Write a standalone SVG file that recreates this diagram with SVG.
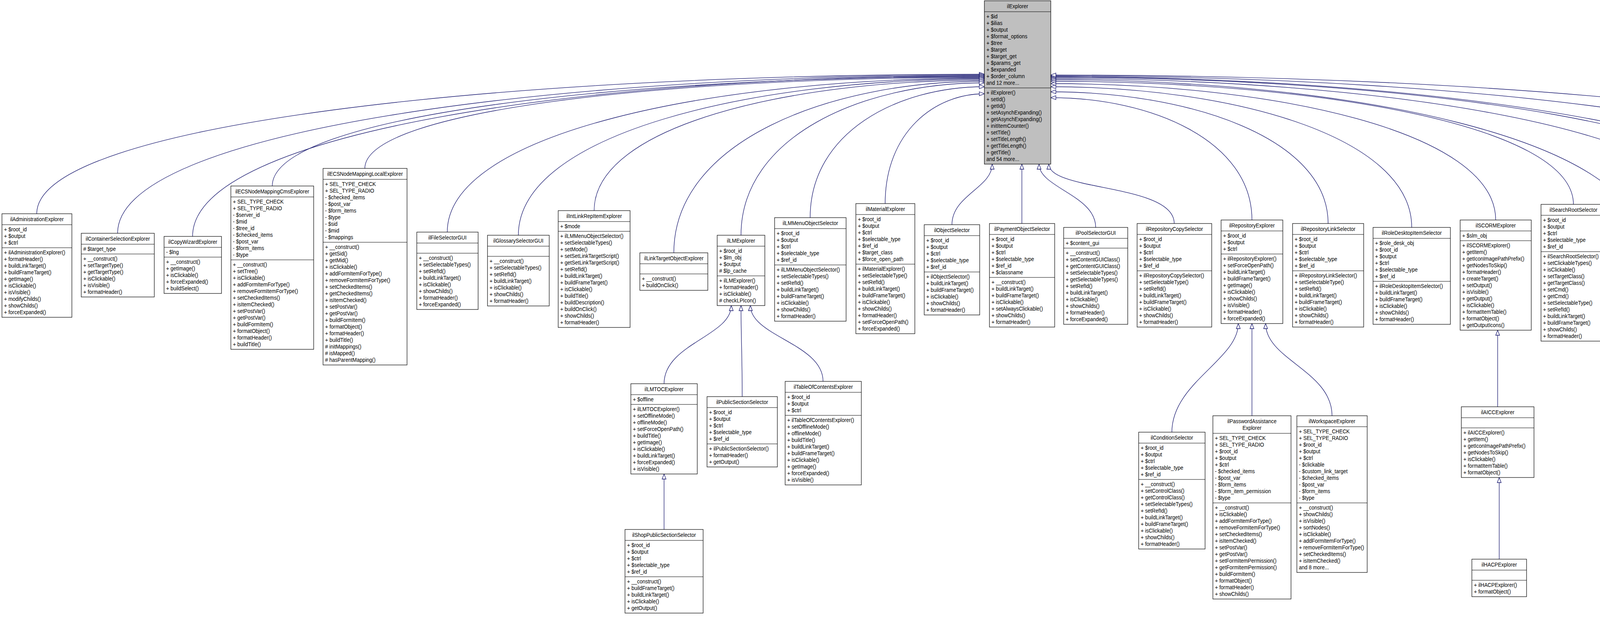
<svg xmlns="http://www.w3.org/2000/svg" width="5215" height="1579" viewBox="0 0 5215 1579">
<style>
.b{fill:#fff;stroke:#000;stroke-width:1.2}
.r{fill:#bfbfbf;stroke:#000;stroke-width:1.2}
.l{stroke:#000;stroke-width:1.2}
text{font-family:"Liberation Sans",Arial,sans-serif;font-size:15px;fill:#000}
.t{text-anchor:middle}
.e{fill:none;stroke:#191970;stroke-width:1.3;marker-end:url(#a)}
</style>
<defs>
<marker id="a" viewBox="0 0 14 12" refX="14" refY="6" markerWidth="14" markerHeight="12" orient="auto" markerUnits="userSpaceOnUse"><path d="M1,1 L14,6 L1,11 Z" fill="#fff" stroke="#191970" stroke-width="1.3"/></marker>
</defs>
<rect width="5215" height="1579" fill="#fff"/>
<g id="edges">
<path class="e" d="M94,547 C94,315 1307,190 2520,190"/>
<path class="e" d="M301,597 C301,334 1410,192 2520,192"/>
<path class="e" d="M493,605 C493,338 1506,194 2520,194"/>
<path class="e" d="M697,476 C697,294 1608,196 2520,196"/>
<path class="e" d="M934,431 C934,280 1727,198 2520,198"/>
<path class="e" d="M1145,594 C1145,338 1832,200 2520,200"/>
<path class="e" d="M1327,602 C1327,342 1923,202 2520,202"/>
<path class="e" d="M1521,539 C1521,322 2021,205 2520,205"/>
<path class="e" d="M1725,647 C1725,362 2122,208 2520,208"/>
<path class="e" d="M1897,602 C1897,349 2208,212 2520,212"/>
<path class="e" d="M2074,557 C2074,339 2297,222 2520,222"/>
<path class="e" d="M2266,521 C2266,338 2393,240 2520,240"/>
<path class="e" d="M2437,575 C2437,500 2540,480 2540,420"/>
<path class="e" d="M2616,572 L2616,420"/>
<path class="e" d="M2805,582 C2805,500 2660,480 2660,420"/>
<path class="e" d="M3006,572 C3006,470 2685,490 2685,420"/>
<path class="e" d="M3205,563 C3205,360 2948,250 2690,250"/>
<path class="e" d="M3400,572 C3400,353 3045,235 2690,235"/>
<path class="e" d="M3614,582 C3614,348 3152,222 2690,222"/>
<path class="e" d="M3829,563 C3829,336 3259,214 2690,214"/>
<path class="e" d="M4028,523 C4028,318 3359,208 2690,208"/>
<path class="e" d="M4205,631 C4205,353 3447,204 2690,204"/>
<path class="e" d="M4384,572 C4384,331 3537,201 2690,201"/>
<path class="e" d="M4568,572 C4568,328 3629,198 2690,198"/>
<path class="e" d="M4749,644 C4749,353 3719,196 2690,196"/>
<path class="e" d="M4930,579 C4930,329 3810,194 2690,194"/>
<path class="e" d="M5120,515 C5120,305 3905,192 2690,192"/>
<path class="e" d="M1700,982 C1700,880 1872,860 1872,782"/>
<path class="e" d="M1900,1015 C1900,900 1897,870 1897,782"/>
<path class="e" d="M2107,976 C2107,880 1921,860 1921,782"/>
<path class="e" d="M1700,1355 L1700,1213"/>
<path class="e" d="M3000,1106 C3000,980 3170,920 3170,828"/>
<path class="e" d="M3205,1064 L3205,828"/>
<path class="e" d="M3410,1064 C3410,950 3240,920 3240,828"/>
<path class="e" d="M3834,1041 L3834,845"/>
<path class="e" d="M3838,1431 L3838,1222"/>
</g>

<g id="ilExplorer" transform="translate(2520,2)">
<rect class="r" width="170" height="418"/><line class="l" x1="0" y1="28" x2="170" y2="28"/><line class="l" x1="0" y1="223" x2="170" y2="223"/>
<g transform="scale(.87,1)"><text class="t" x="97.7" y="19">ilExplorer</text>
<text y="45"><tspan x="6">+ $id</tspan><tspan x="6" dy="17">+ $ilias</tspan><tspan x="6" dy="17">+ $output</tspan><tspan x="6" dy="17">+ $format_options</tspan><tspan x="6" dy="17">+ $tree</tspan><tspan x="6" dy="17">+ $target</tspan><tspan x="6" dy="17">+ $target_get</tspan><tspan x="6" dy="17">+ $params_get</tspan><tspan x="6" dy="17">+ $expanded</tspan><tspan x="6" dy="17">+ $order_column</tspan><tspan x="6" dy="17">and 12 more...</tspan></text>
<text y="240"><tspan x="6">+ ilExplorer()</tspan><tspan x="6" dy="17">+ setId()</tspan><tspan x="6" dy="17">+ getId()</tspan><tspan x="6" dy="17">+ setAsynchExpanding()</tspan><tspan x="6" dy="17">+ getAsynchExpanding()</tspan><tspan x="6" dy="17">+ initItemCounter()</tspan><tspan x="6" dy="17">+ setTitle()</tspan><tspan x="6" dy="17">+ setTitleLength()</tspan><tspan x="6" dy="17">+ getTitleLength()</tspan><tspan x="6" dy="17">+ getTitle()</tspan><tspan x="6" dy="17">and 54 more...</tspan></text></g>
</g>

<g id="ilAdministrationExplorer" transform="translate(5,547)">
<rect class="b" width="179" height="265"/><line class="l" x1="0" y1="28" x2="179" y2="28"/><line class="l" x1="0" y1="87" x2="179" y2="87"/>
<g transform="scale(.87,1)"><text class="t" x="102.9" y="19">ilAdministrationExplorer</text>
<text y="45"><tspan x="6">+ $root_id</tspan><tspan x="6" dy="17">+ $output</tspan><tspan x="6" dy="17">+ $ctrl</tspan></text>
<text y="104"><tspan x="6">+ ilAdministrationExplorer()</tspan><tspan x="6" dy="17">+ formatHeader()</tspan><tspan x="6" dy="17">+ buildLinkTarget()</tspan><tspan x="6" dy="17">+ buildFrameTarget()</tspan><tspan x="6" dy="17">+ getImage()</tspan><tspan x="6" dy="17">+ isClickable()</tspan><tspan x="6" dy="17">+ isVisible()</tspan><tspan x="6" dy="17">+ modifyChilds()</tspan><tspan x="6" dy="17">+ showChilds()</tspan><tspan x="6" dy="17">+ forceExpanded()</tspan></text></g>
</g>

<g id="ilContainerSelectionExplorer" transform="translate(208,597)">
<rect class="b" width="187" height="163"/><line class="l" x1="0" y1="28" x2="187" y2="28"/><line class="l" x1="0" y1="53" x2="187" y2="53"/>
<g transform="scale(.87,1)"><text class="t" x="107.5" y="19">ilContainerSelectionExplorer</text>
<text y="45"><tspan x="6"># $target_type</tspan></text>
<text y="70"><tspan x="6">+ __construct()</tspan><tspan x="6" dy="17">+ setTargetType()</tspan><tspan x="6" dy="17">+ getTargetType()</tspan><tspan x="6" dy="17">+ isClickable()</tspan><tspan x="6" dy="17">+ isVisible()</tspan><tspan x="6" dy="17">+ formatHeader()</tspan></text></g>
</g>

<g id="ilCopyWizardExplorer" transform="translate(420,605)">
<rect class="b" width="147" height="146"/><line class="l" x1="0" y1="28" x2="147" y2="28"/><line class="l" x1="0" y1="53" x2="147" y2="53"/>
<g transform="scale(.87,1)"><text class="t" x="84.5" y="19">ilCopyWizardExplorer</text>
<text y="45"><tspan x="6">- $lng</tspan></text>
<text y="70"><tspan x="6">+ __construct()</tspan><tspan x="6" dy="17">+ getImage()</tspan><tspan x="6" dy="17">+ isClickable()</tspan><tspan x="6" dy="17">+ forceExpanded()</tspan><tspan x="6" dy="17">+ buildSelect()</tspan></text></g>
</g>

<g id="ilECSNodeMappingCmsExplorer" transform="translate(591,476)">
<rect class="b" width="212" height="418"/><line class="l" x1="0" y1="28" x2="212" y2="28"/><line class="l" x1="0" y1="189" x2="212" y2="189"/>
<g transform="scale(.87,1)"><text class="t" x="121.8" y="19">ilECSNodeMappingCmsExplorer</text>
<text y="45"><tspan x="6">+ SEL_TYPE_CHECK</tspan><tspan x="6" dy="17">+ SEL_TYPE_RADIO</tspan><tspan x="6" dy="17">- $server_id</tspan><tspan x="6" dy="17">- $mid</tspan><tspan x="6" dy="17">- $tree_id</tspan><tspan x="6" dy="17">- $checked_items</tspan><tspan x="6" dy="17">- $post_var</tspan><tspan x="6" dy="17">- $form_items</tspan><tspan x="6" dy="17">- $type</tspan></text>
<text y="206"><tspan x="6">+ __construct()</tspan><tspan x="6" dy="17">+ setTree()</tspan><tspan x="6" dy="17">+ isClickable()</tspan><tspan x="6" dy="17">+ addFormItemForType()</tspan><tspan x="6" dy="17">+ removeFormItemForType()</tspan><tspan x="6" dy="17">+ setCheckedItems()</tspan><tspan x="6" dy="17">+ isItemChecked()</tspan><tspan x="6" dy="17">+ setPostVar()</tspan><tspan x="6" dy="17">+ getPostVar()</tspan><tspan x="6" dy="17">+ buildFormItem()</tspan><tspan x="6" dy="17">+ formatObject()</tspan><tspan x="6" dy="17">+ formatHeader()</tspan><tspan x="6" dy="17">+ buildTitle()</tspan></text></g>
</g>

<g id="ilECSNodeMappingLocalExplorer" transform="translate(827,431)">
<rect class="b" width="215" height="503"/><line class="l" x1="0" y1="28" x2="215" y2="28"/><line class="l" x1="0" y1="189" x2="215" y2="189"/>
<g transform="scale(.87,1)"><text class="t" x="123.6" y="19">ilECSNodeMappingLocalExplorer</text>
<text y="45"><tspan x="6">+ SEL_TYPE_CHECK</tspan><tspan x="6" dy="17">+ SEL_TYPE_RADIO</tspan><tspan x="6" dy="17">- $checked_items</tspan><tspan x="6" dy="17">- $post_var</tspan><tspan x="6" dy="17">- $form_items</tspan><tspan x="6" dy="17">- $type</tspan><tspan x="6" dy="17">- $sid</tspan><tspan x="6" dy="17">- $mid</tspan><tspan x="6" dy="17">- $mappings</tspan></text>
<text y="206"><tspan x="6">+ __construct()</tspan><tspan x="6" dy="17">+ getSid()</tspan><tspan x="6" dy="17">+ getMid()</tspan><tspan x="6" dy="17">+ isClickable()</tspan><tspan x="6" dy="17">+ addFormItemForType()</tspan><tspan x="6" dy="17">+ removeFormItemForType()</tspan><tspan x="6" dy="17">+ setCheckedItems()</tspan><tspan x="6" dy="17">+ getCheckedItems()</tspan><tspan x="6" dy="17">+ isItemChecked()</tspan><tspan x="6" dy="17">+ setPostVar()</tspan><tspan x="6" dy="17">+ getPostVar()</tspan><tspan x="6" dy="17">+ buildFormItem()</tspan><tspan x="6" dy="17">+ formatObject()</tspan><tspan x="6" dy="17">+ formatHeader()</tspan><tspan x="6" dy="17">+ buildTitle()</tspan><tspan x="6" dy="17"># initMappings()</tspan><tspan x="6" dy="17"># isMapped()</tspan><tspan x="6" dy="17"># hasParentMapping()</tspan></text></g>
</g>

<g id="ilFileSelectorGUI" transform="translate(1067,594)">
<rect class="b" width="157" height="198"/><line class="l" x1="0" y1="28" x2="157" y2="28"/><line class="l" x1="0" y1="54" x2="157" y2="54"/>
<g transform="scale(.87,1)"><text class="t" x="90.2" y="19">ilFileSelectorGUI</text>
<text y="71"><tspan x="6">+ __construct()</tspan><tspan x="6" dy="17">+ setSelectableTypes()</tspan><tspan x="6" dy="17">+ setRefId()</tspan><tspan x="6" dy="17">+ buildLinkTarget()</tspan><tspan x="6" dy="17">+ isClickable()</tspan><tspan x="6" dy="17">+ showChilds()</tspan><tspan x="6" dy="17">+ formatHeader()</tspan><tspan x="6" dy="17">+ forceExpanded()</tspan></text></g>
</g>

<g id="ilGlossarySelectorGUI" transform="translate(1248,602)">
<rect class="b" width="158" height="181"/><line class="l" x1="0" y1="28" x2="158" y2="28"/><line class="l" x1="0" y1="54" x2="158" y2="54"/>
<g transform="scale(.87,1)"><text class="t" x="90.8" y="19">ilGlossarySelectorGUI</text>
<text y="71"><tspan x="6">+ __construct()</tspan><tspan x="6" dy="17">+ setSelectableTypes()</tspan><tspan x="6" dy="17">+ setRefId()</tspan><tspan x="6" dy="17">+ buildLinkTarget()</tspan><tspan x="6" dy="17">+ isClickable()</tspan><tspan x="6" dy="17">+ showChilds()</tspan><tspan x="6" dy="17">+ formatHeader()</tspan></text></g>
</g>

<g id="ilIntLinkRepItemExplorer" transform="translate(1429,539)">
<rect class="b" width="184" height="299"/><line class="l" x1="0" y1="28" x2="184" y2="28"/><line class="l" x1="0" y1="53" x2="184" y2="53"/>
<g transform="scale(.87,1)"><text class="t" x="105.7" y="19">ilIntLinkRepItemExplorer</text>
<text y="45"><tspan x="6">+ $mode</tspan></text>
<text y="70"><tspan x="6">+ ilLMMenuObjectSelector()</tspan><tspan x="6" dy="17">+ setSelectableTypes()</tspan><tspan x="6" dy="17">+ setMode()</tspan><tspan x="6" dy="17">+ setSetLinkTargetScript()</tspan><tspan x="6" dy="17">+ getSetLinkTargetScript()</tspan><tspan x="6" dy="17">+ setRefId()</tspan><tspan x="6" dy="17">+ buildLinkTarget()</tspan><tspan x="6" dy="17">+ buildFrameTarget()</tspan><tspan x="6" dy="17">+ isClickable()</tspan><tspan x="6" dy="17">+ buildTitle()</tspan><tspan x="6" dy="17">+ buildDescription()</tspan><tspan x="6" dy="17">+ buildOnClick()</tspan><tspan x="6" dy="17">+ showChilds()</tspan><tspan x="6" dy="17">+ formatHeader()</tspan></text></g>
</g>

<g id="ilLinkTargetObjectExplorer" transform="translate(1638,647)">
<rect class="b" width="174" height="96"/><line class="l" x1="0" y1="28" x2="174" y2="28"/><line class="l" x1="0" y1="54" x2="174" y2="54"/>
<g transform="scale(.87,1)"><text class="t" x="100" y="19">ilLinkTargetObjectExplorer</text>
<text y="71"><tspan x="6">+ __construct()</tspan><tspan x="6" dy="17">+ buildOnClick()</tspan></text></g>
</g>

<g id="ilLMExplorer" transform="translate(1836,602)">
<rect class="b" width="122" height="180"/><line class="l" x1="0" y1="28" x2="122" y2="28"/><line class="l" x1="0" y1="104" x2="122" y2="104"/>
<g transform="scale(.87,1)"><text class="t" x="70.1" y="19">ilLMExplorer</text>
<text y="45"><tspan x="6">+ $root_id</tspan><tspan x="6" dy="17">+ $lm_obj</tspan><tspan x="6" dy="17">+ $output</tspan><tspan x="6" dy="17"># $lp_cache</tspan></text>
<text y="121"><tspan x="6">+ ilLMExplorer()</tspan><tspan x="6" dy="17">+ formatHeader()</tspan><tspan x="6" dy="17">+ isClickable()</tspan><tspan x="6" dy="17"># checkLPIcon()</tspan></text></g>
</g>

<g id="ilLMMenuObjectSelector" transform="translate(1983,557)">
<rect class="b" width="183" height="265"/><line class="l" x1="0" y1="28" x2="183" y2="28"/><line class="l" x1="0" y1="121" x2="183" y2="121"/>
<g transform="scale(.87,1)"><text class="t" x="105.2" y="19">ilLMMenuObjectSelector</text>
<text y="45"><tspan x="6">+ $root_id</tspan><tspan x="6" dy="17">+ $output</tspan><tspan x="6" dy="17">+ $ctrl</tspan><tspan x="6" dy="17">+ $selectable_type</tspan><tspan x="6" dy="17">+ $ref_id</tspan></text>
<text y="138"><tspan x="6">+ ilLMMenuObjectSelector()</tspan><tspan x="6" dy="17">+ setSelectableTypes()</tspan><tspan x="6" dy="17">+ setRefId()</tspan><tspan x="6" dy="17">+ buildLinkTarget()</tspan><tspan x="6" dy="17">+ buildFrameTarget()</tspan><tspan x="6" dy="17">+ isClickable()</tspan><tspan x="6" dy="17">+ showChilds()</tspan><tspan x="6" dy="17">+ formatHeader()</tspan></text></g>
</g>

<g id="ilMaterialExplorer" transform="translate(2191,521)">
<rect class="b" width="151" height="333"/><line class="l" x1="0" y1="28" x2="151" y2="28"/><line class="l" x1="0" y1="155" x2="151" y2="155"/>
<g transform="scale(.87,1)"><text class="t" x="86.8" y="19">ilMaterialExplorer</text>
<text y="45"><tspan x="6">+ $root_id</tspan><tspan x="6" dy="17">+ $output</tspan><tspan x="6" dy="17">+ $ctrl</tspan><tspan x="6" dy="17">+ $selectable_type</tspan><tspan x="6" dy="17">+ $ref_id</tspan><tspan x="6" dy="17">+ $target_class</tspan><tspan x="6" dy="17">+ $force_open_path</tspan></text>
<text y="172"><tspan x="6">+ ilMaterialExplorer()</tspan><tspan x="6" dy="17">+ setSelectableType()</tspan><tspan x="6" dy="17">+ setRefId()</tspan><tspan x="6" dy="17">+ buildLinkTarget()</tspan><tspan x="6" dy="17">+ buildFrameTarget()</tspan><tspan x="6" dy="17">+ isClickable()</tspan><tspan x="6" dy="17">+ showChilds()</tspan><tspan x="6" dy="17">+ formatHeader()</tspan><tspan x="6" dy="17">+ setForceOpenPath()</tspan><tspan x="6" dy="17">+ forceExpanded()</tspan></text></g>
</g>

<g id="ilObjectSelector" transform="translate(2366,575)">
<rect class="b" width="142" height="231"/><line class="l" x1="0" y1="28" x2="142" y2="28"/><line class="l" x1="0" y1="121" x2="142" y2="121"/>
<g transform="scale(.87,1)"><text class="t" x="81.6" y="19">ilObjectSelector</text>
<text y="45"><tspan x="6">+ $root_id</tspan><tspan x="6" dy="17">+ $output</tspan><tspan x="6" dy="17">+ $ctrl</tspan><tspan x="6" dy="17">+ $selectable_type</tspan><tspan x="6" dy="17">+ $ref_id</tspan></text>
<text y="138"><tspan x="6">+ ilObjectSelector()</tspan><tspan x="6" dy="17">+ buildLinkTarget()</tspan><tspan x="6" dy="17">+ buildFrameTarget()</tspan><tspan x="6" dy="17">+ isClickable()</tspan><tspan x="6" dy="17">+ showChilds()</tspan><tspan x="6" dy="17">+ formatHeader()</tspan></text></g>
</g>

<g id="ilPaymentObjectSelector" transform="translate(2533,572)">
<rect class="b" width="167" height="265"/><line class="l" x1="0" y1="28" x2="167" y2="28"/><line class="l" x1="0" y1="138" x2="167" y2="138"/>
<g transform="scale(.87,1)"><text class="t" x="96" y="19">ilPaymentObjectSelector</text>
<text y="45"><tspan x="6">+ $root_id</tspan><tspan x="6" dy="17">+ $output</tspan><tspan x="6" dy="17">+ $ctrl</tspan><tspan x="6" dy="17">+ $selectable_type</tspan><tspan x="6" dy="17">+ $ref_id</tspan><tspan x="6" dy="17">+ $classname</tspan></text>
<text y="155"><tspan x="6">+ __construct()</tspan><tspan x="6" dy="17">+ buildLinkTarget()</tspan><tspan x="6" dy="17">+ buildFrameTarget()</tspan><tspan x="6" dy="17">+ isClickable()</tspan><tspan x="6" dy="17">+ setAlwaysClickable()</tspan><tspan x="6" dy="17">+ showChilds()</tspan><tspan x="6" dy="17">+ formatHeader()</tspan></text></g>
</g>

<g id="ilPoolSelectorGUI" transform="translate(2723,582)">
<rect class="b" width="164" height="248"/><line class="l" x1="0" y1="28" x2="164" y2="28"/><line class="l" x1="0" y1="53" x2="164" y2="53"/>
<g transform="scale(.87,1)"><text class="t" x="94.3" y="19">ilPoolSelectorGUI</text>
<text y="45"><tspan x="6">+ $content_gui</tspan></text>
<text y="70"><tspan x="6">+ __construct()</tspan><tspan x="6" dy="17">+ setContentGUIClass()</tspan><tspan x="6" dy="17">+ getContentGUIClass()</tspan><tspan x="6" dy="17">+ setSelectableTypes()</tspan><tspan x="6" dy="17">+ getSelectableTypes()</tspan><tspan x="6" dy="17">+ setRefId()</tspan><tspan x="6" dy="17">+ buildLinkTarget()</tspan><tspan x="6" dy="17">+ isClickable()</tspan><tspan x="6" dy="17">+ showChilds()</tspan><tspan x="6" dy="17">+ formatHeader()</tspan><tspan x="6" dy="17">+ forceExpanded()</tspan></text></g>
</g>

<g id="ilRepositoryCopySelector" transform="translate(2911,572)">
<rect class="b" width="191" height="265"/><line class="l" x1="0" y1="28" x2="191" y2="28"/><line class="l" x1="0" y1="121" x2="191" y2="121"/>
<g transform="scale(.87,1)"><text class="t" x="109.8" y="19">ilRepositoryCopySelector</text>
<text y="45"><tspan x="6">+ $root_id</tspan><tspan x="6" dy="17">+ $output</tspan><tspan x="6" dy="17">+ $ctrl</tspan><tspan x="6" dy="17">+ $selectable_type</tspan><tspan x="6" dy="17">+ $ref_id</tspan></text>
<text y="138"><tspan x="6">+ ilRepositoryCopySelector()</tspan><tspan x="6" dy="17">+ setSelectableType()</tspan><tspan x="6" dy="17">+ setRefId()</tspan><tspan x="6" dy="17">+ buildLinkTarget()</tspan><tspan x="6" dy="17">+ buildFrameTarget()</tspan><tspan x="6" dy="17">+ isClickable()</tspan><tspan x="6" dy="17">+ showChilds()</tspan><tspan x="6" dy="17">+ formatHeader()</tspan></text></g>
</g>

<g id="ilRepositoryExplorer" transform="translate(3126,563)">
<rect class="b" width="158" height="265"/><line class="l" x1="0" y1="28" x2="158" y2="28"/><line class="l" x1="0" y1="87" x2="158" y2="87"/>
<g transform="scale(.87,1)"><text class="t" x="90.8" y="19">ilRepositoryExplorer</text>
<text y="45"><tspan x="6">+ $root_id</tspan><tspan x="6" dy="17">+ $output</tspan><tspan x="6" dy="17">+ $ctrl</tspan></text>
<text y="104"><tspan x="6">+ ilRepositoryExplorer()</tspan><tspan x="6" dy="17">+ setForceOpenPath()</tspan><tspan x="6" dy="17">+ buildLinkTarget()</tspan><tspan x="6" dy="17">+ buildFrameTarget()</tspan><tspan x="6" dy="17">+ getImage()</tspan><tspan x="6" dy="17">+ isClickable()</tspan><tspan x="6" dy="17">+ showChilds()</tspan><tspan x="6" dy="17">+ isVisible()</tspan><tspan x="6" dy="17">+ formatHeader()</tspan><tspan x="6" dy="17">+ forceExpanded()</tspan></text></g>
</g>

<g id="ilRepositoryLinkSelector" transform="translate(3309,572)">
<rect class="b" width="182" height="265"/><line class="l" x1="0" y1="28" x2="182" y2="28"/><line class="l" x1="0" y1="121" x2="182" y2="121"/>
<g transform="scale(.87,1)"><text class="t" x="104.6" y="19">ilRepositoryLinkSelector</text>
<text y="45"><tspan x="6">+ $root_id</tspan><tspan x="6" dy="17">+ $output</tspan><tspan x="6" dy="17">+ $ctrl</tspan><tspan x="6" dy="17">+ $selectable_type</tspan><tspan x="6" dy="17">+ $ref_id</tspan></text>
<text y="138"><tspan x="6">+ ilRepositoryLinkSelector()</tspan><tspan x="6" dy="17">+ setSelectableType()</tspan><tspan x="6" dy="17">+ setRefId()</tspan><tspan x="6" dy="17">+ buildLinkTarget()</tspan><tspan x="6" dy="17">+ buildFrameTarget()</tspan><tspan x="6" dy="17">+ isClickable()</tspan><tspan x="6" dy="17">+ showChilds()</tspan><tspan x="6" dy="17">+ formatHeader()</tspan></text></g>
</g>

<g id="ilRoleDesktopItemSelector" transform="translate(3515,582)">
<rect class="b" width="198" height="248"/><line class="l" x1="0" y1="28" x2="198" y2="28"/><line class="l" x1="0" y1="138" x2="198" y2="138"/>
<g transform="scale(.87,1)"><text class="t" x="113.8" y="19">ilRoleDesktopItemSelector</text>
<text y="45"><tspan x="6">+ $role_desk_obj</tspan><tspan x="6" dy="17">+ $root_id</tspan><tspan x="6" dy="17">+ $output</tspan><tspan x="6" dy="17">+ $ctrl</tspan><tspan x="6" dy="17">+ $selectable_type</tspan><tspan x="6" dy="17">+ $ref_id</tspan></text>
<text y="155"><tspan x="6">+ ilRoleDesktopItemSelector()</tspan><tspan x="6" dy="17">+ buildLinkTarget()</tspan><tspan x="6" dy="17">+ buildFrameTarget()</tspan><tspan x="6" dy="17">+ isClickable()</tspan><tspan x="6" dy="17">+ showChilds()</tspan><tspan x="6" dy="17">+ formatHeader()</tspan></text></g>
</g>

<g id="ilSCORMExplorer" transform="translate(3738,563)">
<rect class="b" width="182" height="282"/><line class="l" x1="0" y1="28" x2="182" y2="28"/><line class="l" x1="0" y1="53" x2="182" y2="53"/>
<g transform="scale(.87,1)"><text class="t" x="104.6" y="19">ilSCORMExplorer</text>
<text y="45"><tspan x="6">+ $slm_obj</tspan></text>
<text y="70"><tspan x="6">+ ilSCORMExplorer()</tspan><tspan x="6" dy="17">+ getItem()</tspan><tspan x="6" dy="17">+ getIconImagePathPrefix()</tspan><tspan x="6" dy="17">+ getNodesToSkip()</tspan><tspan x="6" dy="17">+ formatHeader()</tspan><tspan x="6" dy="17">+ createTarget()</tspan><tspan x="6" dy="17">+ setOutput()</tspan><tspan x="6" dy="17">+ isVisible()</tspan><tspan x="6" dy="17">+ getOutput()</tspan><tspan x="6" dy="17">+ isClickable()</tspan><tspan x="6" dy="17">+ formatItemTable()</tspan><tspan x="6" dy="17">+ formatObject()</tspan><tspan x="6" dy="17">+ getOutputIcons()</tspan></text></g>
</g>

<g id="ilSearchRootSelector" transform="translate(3945,523)">
<rect class="b" width="166" height="350"/><line class="l" x1="0" y1="28" x2="166" y2="28"/><line class="l" x1="0" y1="121" x2="166" y2="121"/>
<g transform="scale(.87,1)"><text class="t" x="95.4" y="19">ilSearchRootSelector</text>
<text y="45"><tspan x="6">+ $root_id</tspan><tspan x="6" dy="17">+ $output</tspan><tspan x="6" dy="17">+ $ctrl</tspan><tspan x="6" dy="17">+ $selectable_type</tspan><tspan x="6" dy="17">+ $ref_id</tspan></text>
<text y="138"><tspan x="6">+ ilSearchRootSelector()</tspan><tspan x="6" dy="17">+ setClickableTypes()</tspan><tspan x="6" dy="17">+ isClickable()</tspan><tspan x="6" dy="17">+ setTargetClass()</tspan><tspan x="6" dy="17">+ getTargetClass()</tspan><tspan x="6" dy="17">+ setCmd()</tspan><tspan x="6" dy="17">+ getCmd()</tspan><tspan x="6" dy="17">+ setSelectableType()</tspan><tspan x="6" dy="17">+ setRefId()</tspan><tspan x="6" dy="17">+ buildLinkTarget()</tspan><tspan x="6" dy="17">+ buildFrameTarget()</tspan><tspan x="6" dy="17">+ showChilds()</tspan><tspan x="6" dy="17">+ formatHeader()</tspan></text></g>
</g>

<g id="ilShopExplorer" transform="translate(4135,631)">
<rect class="b" width="140" height="163"/><line class="l" x1="0" y1="28" x2="140" y2="28"/><line class="l" x1="0" y1="87" x2="140" y2="87"/>
<g transform="scale(.87,1)"><text class="t" x="80.5" y="19">ilShopExplorer</text>
<text y="45"><tspan x="6">+ $root_id</tspan><tspan x="6" dy="17">+ $target</tspan><tspan x="6" dy="17">+ $payment_objects</tspan></text>
<text y="104"><tspan x="6">+ ilShopExplorer()</tspan><tspan x="6" dy="17">+ renderTree()</tspan><tspan x="6" dy="17">+ setOutput()</tspan><tspan x="6" dy="17">+ getOutput()</tspan></text></g>
</g>

<g id="ilShopRepositoryExplorer" transform="translate(4299,572)">
<rect class="b" width="170" height="248"/><line class="l" x1="0" y1="28" x2="170" y2="28"/><line class="l" x1="0" y1="87" x2="170" y2="87"/>
<g transform="scale(.87,1)"><text class="t" x="97.7" y="19">ilShopRepositoryExplorer</text>
<text y="45"><tspan x="6">+ $root_id</tspan><tspan x="6" dy="17">+ $output</tspan><tspan x="6" dy="17">+ $ctrl</tspan></text>
<text y="104"><tspan x="6">+ __construct()</tspan><tspan x="6" dy="17">+ setForceOpenPath()</tspan><tspan x="6" dy="17">+ buildLinkTarget()</tspan><tspan x="6" dy="17">+ getImage()</tspan><tspan x="6" dy="17">+ isClickable()</tspan><tspan x="6" dy="17">+ showChilds()</tspan><tspan x="6" dy="17">+ isVisible()</tspan><tspan x="6" dy="17">+ formatHeader()</tspan><tspan x="6" dy="17">+ forceExpanded()</tspan></text></g>
</g>

<g id="ilSolutionExplorer" transform="translate(4493,572)">
<rect class="b" width="150" height="265"/><line class="l" x1="0" y1="28" x2="150" y2="28"/><line class="l" x1="0" y1="138" x2="150" y2="138"/>
<g transform="scale(.87,1)"><text class="t" x="86.2" y="19">ilSolutionExplorer</text>
<text y="45"><tspan x="6">+ $root_id</tspan><tspan x="6" dy="17">+ $output</tspan><tspan x="6" dy="17">+ $ctrl</tspan><tspan x="6" dy="17">+ $selectable_type</tspan><tspan x="6" dy="17">+ $ref_id</tspan><tspan x="6" dy="17">+ $target_class</tspan></text>
<text y="155"><tspan x="6">+ ilSolutionExplorer()</tspan><tspan x="6" dy="17">+ setSelectableType()</tspan><tspan x="6" dy="17">+ setRefId()</tspan><tspan x="6" dy="17">+ buildLinkTarget()</tspan><tspan x="6" dy="17">+ buildFrameTarget()</tspan><tspan x="6" dy="17">+ isClickable()</tspan><tspan x="6" dy="17">+ showChilds()</tspan></text></g>
</g>

<g id="ilStyleScopeExplorer" transform="translate(4668,644)">
<rect class="b" width="162" height="113"/><line class="l" x1="0" y1="28" x2="162" y2="28"/><line class="l" x1="0" y1="54" x2="162" y2="54"/>
<g transform="scale(.87,1)"><text class="t" x="93.1" y="19">ilStyleScopeExplorer</text>
<text y="71"><tspan x="6">+ ilStyleScopeExplorer()</tspan><tspan x="6" dy="17">+ formatHeader()</tspan><tspan x="6" dy="17">+ buildLinkTarget()</tspan></text></g>
</g>

<g id="ilSurveySkillExplorer" transform="translate(4855,579)">
<rect class="b" width="151" height="248"/><line class="l" x1="0" y1="28" x2="151" y2="28"/><line class="l" x1="0" y1="87" x2="151" y2="87"/>
<g transform="scale(.87,1)"><text class="t" x="86.8" y="19">ilSurveySkillExplorer</text>
<text y="45"><tspan x="6">+ $root_id</tspan><tspan x="6" dy="17">+ $slm_obj</tspan><tspan x="6" dy="17">+ $output</tspan></text>
<text y="104"><tspan x="6">+ __construct()</tspan><tspan x="6" dy="17">+ setForceOpenPath()</tspan><tspan x="6" dy="17">+ isClickable()</tspan><tspan x="6" dy="17">+ buildLinkTarget()</tspan><tspan x="6" dy="17">+ buildTitle()</tspan><tspan x="6" dy="17">+ forceExpanded()</tspan><tspan x="6" dy="17">+ buildFrameTarget()</tspan><tspan x="6" dy="17">+ showChilds()</tspan><tspan x="6" dy="17">+ formatHeader()</tspan></text></g>
</g>

<g id="ilWorkspaceFolderExplorer" transform="translate(5031,515)">
<rect class="b" width="179" height="384"/><line class="l" x1="0" y1="28" x2="179" y2="28"/><line class="l" x1="0" y1="87" x2="179" y2="87"/>
<g transform="scale(.87,1)"><text class="t" x="102.9" y="19">ilWorkspaceFolderExplorer</text>
<text y="45"><tspan x="6">+ $user_id</tspan><tspan x="6" dy="17">+ $root_id</tspan><tspan x="6" dy="17">+ $allowed_types</tspan></text>
<text y="104"><tspan x="6">+ __construct()</tspan><tspan x="6" dy="17">+ setEnableSmallMode()</tspan><tspan x="6" dy="17">+ getEnableSmallMode()</tspan><tspan x="6" dy="17">+ setOutput()</tspan><tspan x="6" dy="17">+ formatHeader()</tspan><tspan x="6" dy="17">+ setExpand()</tspan><tspan x="6" dy="17">+ buildLinkTarget()</tspan><tspan x="6" dy="17">+ buildFrameTarget()</tspan><tspan x="6" dy="17">+ setAllowedTypes()</tspan><tspan x="6" dy="17">+ setShowDetails()</tspan><tspan x="6" dy="17">+ buildDescription()</tspan><tspan x="6" dy="17">+ getImage()</tspan><tspan x="6" dy="17">+ isClickable()</tspan><tspan x="6" dy="17">+ showChilds()</tspan><tspan x="6" dy="17">+ hasFolders()</tspan><tspan x="6" dy="17">+ getParentNode()</tspan><tspan x="6" dy="17">+ getOutput()</tspan></text></g>
</g>

<g id="ilLMTOCExplorer" transform="translate(1615,982)">
<rect class="b" width="170" height="231"/><line class="l" x1="0" y1="28" x2="170" y2="28"/><line class="l" x1="0" y1="53" x2="170" y2="53"/>
<g transform="scale(.87,1)"><text class="t" x="97.7" y="19">ilLMTOCExplorer</text>
<text y="45"><tspan x="6">+ $offline</tspan></text>
<text y="70"><tspan x="6">+ ilLMTOCExplorer()</tspan><tspan x="6" dy="17">+ setOfflineMode()</tspan><tspan x="6" dy="17">+ offlineMode()</tspan><tspan x="6" dy="17">+ setForceOpenPath()</tspan><tspan x="6" dy="17">+ buildTitle()</tspan><tspan x="6" dy="17">+ getImage()</tspan><tspan x="6" dy="17">+ isClickable()</tspan><tspan x="6" dy="17">+ buildLinkTarget()</tspan><tspan x="6" dy="17">+ forceExpanded()</tspan><tspan x="6" dy="17">+ isVisible()</tspan></text></g>
</g>

<g id="ilPublicSectionSelector" transform="translate(1810,1015)">
<rect class="b" width="180" height="180"/><line class="l" x1="0" y1="28" x2="180" y2="28"/><line class="l" x1="0" y1="121" x2="180" y2="121"/>
<g transform="scale(.87,1)"><text class="t" x="103.4" y="19">ilPublicSectionSelector</text>
<text y="45"><tspan x="6">+ $root_id</tspan><tspan x="6" dy="17">+ $output</tspan><tspan x="6" dy="17">+ $ctrl</tspan><tspan x="6" dy="17">+ $selectable_type</tspan><tspan x="6" dy="17">+ $ref_id</tspan></text>
<text y="138"><tspan x="6">+ ilPublicSectionSelector()</tspan><tspan x="6" dy="17">+ formatHeader()</tspan><tspan x="6" dy="17">+ getOutput()</tspan></text></g>
</g>

<g id="ilTableOfContentsExplorer" transform="translate(2010,976)">
<rect class="b" width="195" height="265"/><line class="l" x1="0" y1="28" x2="195" y2="28"/><line class="l" x1="0" y1="87" x2="195" y2="87"/>
<g transform="scale(.87,1)"><text class="t" x="112.1" y="19">ilTableOfContentsExplorer</text>
<text y="45"><tspan x="6">+ $root_id</tspan><tspan x="6" dy="17">+ $output</tspan><tspan x="6" dy="17">+ $ctrl</tspan></text>
<text y="104"><tspan x="6">+ ilTableOfContentsExplorer()</tspan><tspan x="6" dy="17">+ setOfflineMode()</tspan><tspan x="6" dy="17">+ offlineMode()</tspan><tspan x="6" dy="17">+ buildTitle()</tspan><tspan x="6" dy="17">+ buildLinkTarget()</tspan><tspan x="6" dy="17">+ buildFrameTarget()</tspan><tspan x="6" dy="17">+ isClickable()</tspan><tspan x="6" dy="17">+ getImage()</tspan><tspan x="6" dy="17">+ forceExpanded()</tspan><tspan x="6" dy="17">+ isVisible()</tspan></text></g>
</g>

<g id="ilShopPublicSectionSelector" transform="translate(1600,1355)">
<rect class="b" width="200" height="214"/><line class="l" x1="0" y1="28" x2="200" y2="28"/><line class="l" x1="0" y1="121" x2="200" y2="121"/>
<g transform="scale(.87,1)"><text class="t" x="114.9" y="19">ilShopPublicSectionSelector</text>
<text y="45"><tspan x="6">+ $root_id</tspan><tspan x="6" dy="17">+ $output</tspan><tspan x="6" dy="17">+ $ctrl</tspan><tspan x="6" dy="17">+ $selectable_type</tspan><tspan x="6" dy="17">+ $ref_id</tspan></text>
<text y="138"><tspan x="6">+ __construct()</tspan><tspan x="6" dy="17">+ buildFrameTarget()</tspan><tspan x="6" dy="17">+ buildLinkTarget()</tspan><tspan x="6" dy="17">+ isClickable()</tspan><tspan x="6" dy="17">+ getOutput()</tspan></text></g>
</g>

<g id="ilConditionSelector" transform="translate(2915,1106)">
<rect class="b" width="170" height="299"/><line class="l" x1="0" y1="28" x2="170" y2="28"/><line class="l" x1="0" y1="121" x2="170" y2="121"/>
<g transform="scale(.87,1)"><text class="t" x="97.7" y="19">ilConditionSelector</text>
<text y="45"><tspan x="6">+ $root_id</tspan><tspan x="6" dy="17">+ $output</tspan><tspan x="6" dy="17">+ $ctrl</tspan><tspan x="6" dy="17">+ $selectable_type</tspan><tspan x="6" dy="17">+ $ref_id</tspan></text>
<text y="138"><tspan x="6">+ __construct()</tspan><tspan x="6" dy="17">+ setControlClass()</tspan><tspan x="6" dy="17">+ getControlClass()</tspan><tspan x="6" dy="17">+ setSelectableTypes()</tspan><tspan x="6" dy="17">+ setRefId()</tspan><tspan x="6" dy="17">+ buildLinkTarget()</tspan><tspan x="6" dy="17">+ buildFrameTarget()</tspan><tspan x="6" dy="17">+ isClickable()</tspan><tspan x="6" dy="17">+ showChilds()</tspan><tspan x="6" dy="17">+ formatHeader()</tspan></text></g>
</g>

<g id="ilPasswordAssistanceExplorer" transform="translate(3105,1064)">
<rect class="b" width="200" height="469"/><line class="l" x1="0" y1="45" x2="200" y2="45"/><line class="l" x1="0" y1="223" x2="200" y2="223"/>
<g transform="scale(.87,1)"><text class="t" x="114.9" y="19">ilPasswordAssistance</text><text class="t" x="114.9" y="36">Explorer</text>
<text y="62"><tspan x="6">+ SEL_TYPE_CHECK</tspan><tspan x="6" dy="17">+ SEL_TYPE_RADIO</tspan><tspan x="6" dy="17">+ $root_id</tspan><tspan x="6" dy="17">+ $output</tspan><tspan x="6" dy="17">+ $ctrl</tspan><tspan x="6" dy="17">- $checked_items</tspan><tspan x="6" dy="17">- $post_var</tspan><tspan x="6" dy="17">- $form_items</tspan><tspan x="6" dy="17">- $form_item_permission</tspan><tspan x="6" dy="17">- $type</tspan></text>
<text y="240"><tspan x="6">+ __construct()</tspan><tspan x="6" dy="17">+ isClickable()</tspan><tspan x="6" dy="17">+ addFormItemForType()</tspan><tspan x="6" dy="17">+ removeFormItemForType()</tspan><tspan x="6" dy="17">+ setCheckedItems()</tspan><tspan x="6" dy="17">+ isItemChecked()</tspan><tspan x="6" dy="17">+ setPostVar()</tspan><tspan x="6" dy="17">+ getPostVar()</tspan><tspan x="6" dy="17">+ setFormItemPermission()</tspan><tspan x="6" dy="17">+ getFormItemPermission()</tspan><tspan x="6" dy="17">+ buildFormItem()</tspan><tspan x="6" dy="17">+ formatObject()</tspan><tspan x="6" dy="17">+ formatHeader()</tspan><tspan x="6" dy="17">+ showChilds()</tspan></text></g>
</g>

<g id="ilWorkspaceExplorer" transform="translate(3320,1064)">
<rect class="b" width="180" height="401"/><line class="l" x1="0" y1="28" x2="180" y2="28"/><line class="l" x1="0" y1="223" x2="180" y2="223"/>
<g transform="scale(.87,1)"><text class="t" x="103.4" y="19">ilWorkspaceExplorer</text>
<text y="45"><tspan x="6">+ SEL_TYPE_CHECK</tspan><tspan x="6" dy="17">+ SEL_TYPE_RADIO</tspan><tspan x="6" dy="17">+ $root_id</tspan><tspan x="6" dy="17">+ $output</tspan><tspan x="6" dy="17">+ $ctrl</tspan><tspan x="6" dy="17">- $clickable</tspan><tspan x="6" dy="17">- $custom_link_target</tspan><tspan x="6" dy="17">- $checked_items</tspan><tspan x="6" dy="17">- $post_var</tspan><tspan x="6" dy="17">- $form_items</tspan><tspan x="6" dy="17">- $type</tspan></text>
<text y="240"><tspan x="6">+ __construct()</tspan><tspan x="6" dy="17">+ showChilds()</tspan><tspan x="6" dy="17">+ isVisible()</tspan><tspan x="6" dy="17">+ sortNodes()</tspan><tspan x="6" dy="17">+ isClickable()</tspan><tspan x="6" dy="17">+ addFormItemForType()</tspan><tspan x="6" dy="17">+ removeFormItemForType()</tspan><tspan x="6" dy="17">+ setCheckedItems()</tspan><tspan x="6" dy="17">+ isItemChecked()</tspan><tspan x="6" dy="17">and 8 more...</tspan></text></g>
</g>

<g id="ilAICCExplorer" transform="translate(3741,1041)">
<rect class="b" width="186" height="181"/><line class="l" x1="0" y1="28" x2="186" y2="28"/><line class="l" x1="0" y1="54" x2="186" y2="54"/>
<g transform="scale(.87,1)"><text class="t" x="106.9" y="19">ilAICCExplorer</text>
<text y="71"><tspan x="6">+ ilAICCExplorer()</tspan><tspan x="6" dy="17">+ getItem()</tspan><tspan x="6" dy="17">+ getIconImagePathPrefix()</tspan><tspan x="6" dy="17">+ getNodesToSkip()</tspan><tspan x="6" dy="17">+ isClickable()</tspan><tspan x="6" dy="17">+ formatItemTable()</tspan><tspan x="6" dy="17">+ formatObject()</tspan></text></g>
</g>

<g id="ilHACPExplorer" transform="translate(3768,1431)">
<rect class="b" width="140" height="96"/><line class="l" x1="0" y1="28" x2="140" y2="28"/><line class="l" x1="0" y1="54" x2="140" y2="54"/>
<g transform="scale(.87,1)"><text class="t" x="80.5" y="19">ilHACPExplorer</text>
<text y="71"><tspan x="6">+ ilHACPExplorer()</tspan><tspan x="6" dy="17">+ formatObject()</tspan></text></g>
</g>
</svg>
